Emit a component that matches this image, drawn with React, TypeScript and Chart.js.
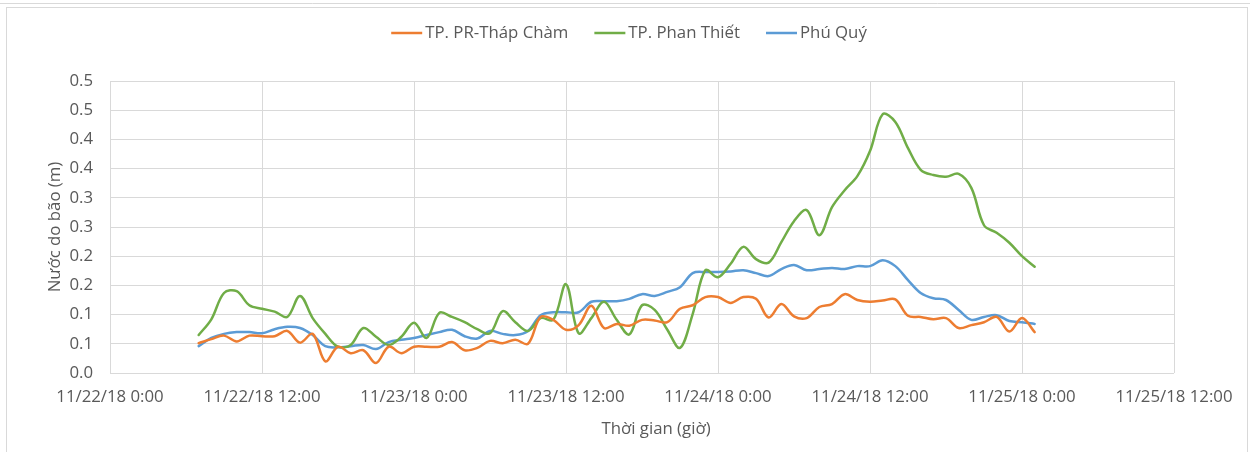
import React, { useEffect, useRef } from "react";
import { Chart, registerables } from "chart.js";

Chart.register(...registerables);

// Hours since 11/22/18 0:00
const hours = [
  7, 8, 9, 10, 11, 12, 13, 14, 15, 16, 17, 18, 19, 20, 21, 22, 23, 24, 25, 26,
  27, 28, 29, 30, 31, 32, 33, 34, 35, 36, 37, 38, 39, 40, 41, 42, 43, 44, 45,
  46, 47, 48, 49, 50, 51, 52, 53, 54, 55, 56, 57, 58, 59, 60, 61, 62, 63, 64,
  65, 66, 67, 68, 69, 70, 71, 72, 73,
];

const seriesNames = ["TP. PR-Tháp Chàm", "TP. Phan Thiết", "Phú Quý"];

const prThapCham = [
  0.051, 0.058, 0.064, 0.054, 0.064, 0.063, 0.063, 0.072, 0.052, 0.067, 0.020, 0.045,
  0.034, 0.039, 0.017, 0.045, 0.034, 0.045, 0.045, 0.045, 0.053, 0.039, 0.043,
  0.055, 0.051, 0.057, 0.050, 0.096, 0.091, 0.074, 0.082, 0.115, 0.077, 0.084, 0.081,
  0.091, 0.090, 0.087, 0.110, 0.116, 0.130, 0.130, 0.120, 0.130, 0.127, 0.095,
  0.118, 0.097, 0.094, 0.113, 0.118, 0.135, 0.125, 0.122, 0.124, 0.126, 0.098,
  0.096, 0.092, 0.094, 0.077, 0.082, 0.087, 0.096, 0.071, 0.094, 0.070,
];

const phanThiet = [
  0.065, 0.092, 0.137, 0.140, 0.116, 0.110, 0.105, 0.096, 0.132, 0.094, 0.067, 0.045,
  0.048, 0.077, 0.062, 0.048, 0.062, 0.086, 0.060, 0.103, 0.096, 0.087, 0.075,
  0.068, 0.106, 0.087, 0.072, 0.094, 0.091, 0.152, 0.068, 0.094, 0.122, 0.091, 0.066,
  0.116, 0.108, 0.074, 0.043, 0.101, 0.176, 0.164, 0.187, 0.216, 0.195, 0.189,
  0.224, 0.260, 0.279, 0.236, 0.284, 0.313, 0.337, 0.380, 0.443, 0.430, 0.385,
  0.348, 0.339, 0.336, 0.341, 0.317, 0.253, 0.240, 0.223, 0.200, 0.182,
];

const phuQuy = [
  0.046, 0.060, 0.067, 0.070, 0.070, 0.068, 0.075, 0.079, 0.077, 0.065, 0.046, 0.044,
  0.046, 0.048, 0.041, 0.053, 0.057, 0.060, 0.065, 0.070, 0.074, 0.063, 0.059,
  0.072, 0.067, 0.065, 0.072, 0.099, 0.104, 0.104, 0.104, 0.122, 0.123, 0.123, 0.127,
  0.135, 0.132, 0.139, 0.147, 0.171, 0.173, 0.173, 0.174, 0.176, 0.171, 0.166,
  0.178, 0.185, 0.176, 0.178, 0.180, 0.178, 0.183, 0.183, 0.193, 0.183, 0.159,
  0.137, 0.128, 0.125, 0.108, 0.091, 0.096, 0.099, 0.089, 0.087, 0.084,
];

const xTickLabels = [
  "11/22/18 0:00",
  "11/22/18 12:00",
  "11/23/18 0:00",
  "11/23/18 12:00",
  "11/24/18 0:00",
  "11/24/18 12:00",
  "11/25/18 0:00",
  "11/25/18 12:00",
];

const yTickLabels = ["0.0", "0.1", "0.1", "0.2", "0.2", "0.3", "0.3", "0.4", "0.4", "0.5", "0.5"];

const yTitle = "Nước do bão (m)";
const xTitle = "Thời gian (giờ)";

const colors = ["#ED7D31", "#70AD47", "#5B9BD5"];
const FONT = "'Open Sans', sans-serif";
const FSIZE = 16.8;
const TEXT = "#595959";

const decorPlugin = {
  id: "decor",
  beforeDraw(chart: any) {
    const ctx = chart.ctx;
    ctx.save();
    ctx.fillStyle = "#ffffff";
    ctx.fillRect(0, 0, chart.width, chart.height);
    ctx.strokeStyle = "#d9d9d9";
    ctx.lineWidth = 1;
    ctx.beginPath();
    ctx.moveTo(0, 3.5);
    ctx.lineTo(chart.width, 3.5);
    ctx.stroke();
    ctx.strokeRect(6.5, 7.5, 1241, chart.height + 5);
    ctx.restore();
  },
  afterDraw(chart: any) {
    const ctx = chart.ctx;
    const area = chart.chartArea;
    ctx.save();
    ctx.font = `${FSIZE}px ${FONT}`;
    ctx.fillStyle = TEXT;
    ctx.textBaseline = "middle";
    // Axis titles
    ctx.textAlign = "center";
    ctx.fillText(xTitle, (area.left + area.right) / 2 + 14, 429);
    ctx.save();
    ctx.translate(55, (area.top + area.bottom) / 2);
    ctx.rotate(-Math.PI / 2);
    ctx.fillText(yTitle, 0, 0);
    ctx.restore();
    // Legend
    const lineLen = 31;
    const gapLineText = 3;
    const gapItems = 26;
    const widths = seriesNames.map((n) => ctx.measureText(n).width);
    let total = 0;
    widths.forEach((w, i) => {
      total += lineLen + gapLineText + w + (i < widths.length - 1 ? gapItems : 0);
    });
    let x = 629 - total / 2;
    const y = 33;
    ctx.textAlign = "left";
    seriesNames.forEach((n, i) => {
      ctx.strokeStyle = colors[i];
      ctx.lineWidth = 2.5;
      ctx.beginPath();
      ctx.moveTo(x, y);
      ctx.lineTo(x + lineLen, y);
      ctx.stroke();
      ctx.fillStyle = TEXT;
      ctx.fillText(n, x + lineLen + gapLineText, y);
      x += lineLen + gapLineText + widths[i] + gapItems;
    });
    ctx.restore();
  },
};

export default function App() {
  const canvasRef = useRef<HTMLCanvasElement | null>(null);

  useEffect(() => {
    if (!canvasRef.current) return;
    const series = [prThapCham, phanThiet, phuQuy];
    const chart = new Chart(canvasRef.current, {
      type: "line",
      data: {
        datasets: series.map((s, i) => ({
          label: seriesNames[i],
          data: hours.map((h, j) => ({ x: h, y: s[j] })),
          borderColor: colors[i],
          backgroundColor: colors[i],
          borderWidth: 2.5,
          pointRadius: 0,
          tension: 0.35,
          borderCapStyle: "round",
          borderJoinStyle: "round",
          fill: false,
        })),
      },
      options: {
        animation: false,
        responsive: false,
        layout: { padding: { top: 81, right: 76, bottom: 0, left: 0 } },
        plugins: {
          legend: { display: false },
          tooltip: { enabled: false },
        },
        scales: {
          x: {
            type: "linear",
            min: 0,
            max: 84,
            afterFit: (scale: any) => {
              scale.height = 79;
            },
            afterBuildTicks: (scale: any) => {
              scale.ticks = xTickLabels.map((_, i) => ({ value: i * 12 }));
            },
            ticks: {
              stepSize: 12,
              autoSkip: false,
              maxRotation: 0,
              minRotation: 0,
              padding: 14,
              color: TEXT,
              font: { family: FONT, size: FSIZE },
              callback: (_v: any, i: number) => xTickLabels[i],
            },
            grid: { color: "#d9d9d9", lineWidth: 1, drawTicks: false },
            border: { display: false },
          },
          y: {
            min: 0,
            max: 0.5,
            afterFit: (scale: any) => {
              scale.width = 110;
            },
            ticks: {
              stepSize: 0.05,
              padding: 17,
              color: TEXT,
              font: { family: FONT, size: FSIZE },
              callback: (_v: any, i: number) => yTickLabels[i],
            },
            grid: { color: "#d9d9d9", lineWidth: 1, drawTicks: false },
            border: { display: false },
          },
        },
      },
      plugins: [decorPlugin],
    });
    return () => chart.destroy();
  }, []);

  return (
    <div style={{ position: "fixed", left: 0, top: 0, width: 1250, height: 452, background: "#fff" }}>
      <canvas ref={canvasRef} width={1250} height={452} />
    </div>
  );
}
